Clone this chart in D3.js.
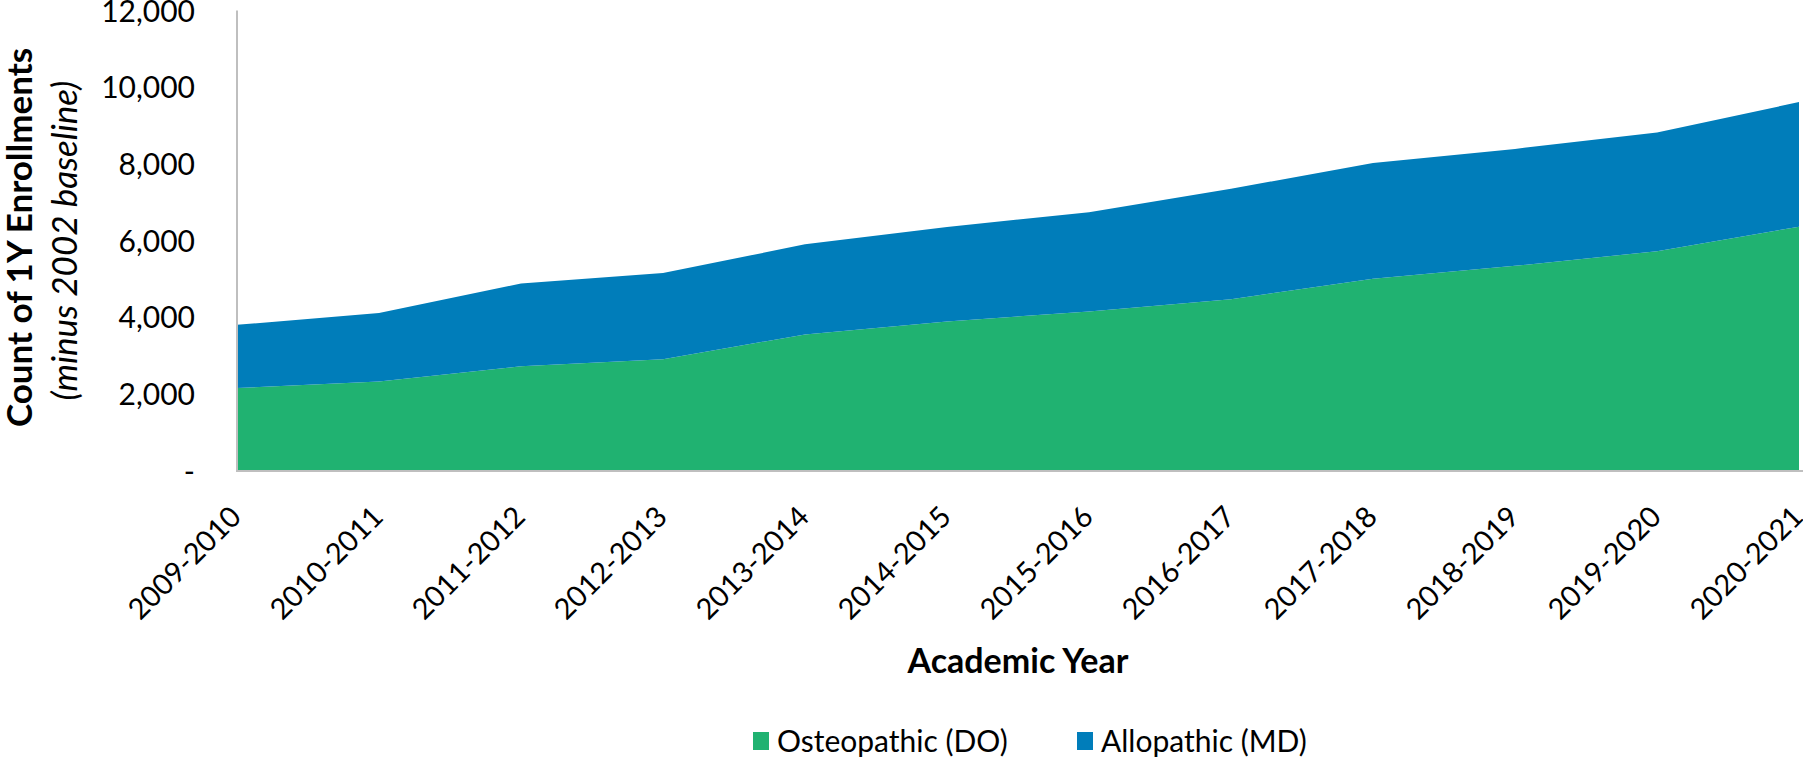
<!DOCTYPE html>
<html>
<head>
<meta charset="utf-8">
<script src="https://cdn.jsdelivr.net/npm/d3@7"></script>
<style>
  html, body { margin: 0; padding: 0; background: #fff; }
  svg { display: block; }
  text { font-family: Lato, "Open Sans", sans-serif; fill: #000; }
</style>
</head>
<body>
<svg id="chart" width="1803" height="759"></svg>
<script>
// Academic years on the category axis
const years = ["2009-2010", "2010-2011", "2011-2012", "2012-2013", "2013-2014", "2014-2015",
               "2015-2016", "2016-2017", "2017-2018", "2018-2019", "2019-2020", "2020-2021"];
// First-year enrollments above the 2002 baseline, by school type
const osteopathicDO = [2150, 2320, 2720, 2900, 3550, 3890, 4150, 4470, 5000, 5340, 5720, 6360];
const allopathicMD  = [1650, 1790, 2160, 2250, 2350, 2460, 2590, 2880, 3020, 3050, 3100, 3250];
const yTicks = [0, 2000, 4000, 6000, 8000, 10000, 12000];
const seriesNames = ["Osteopathic (DO)", "Allopathic (MD)"];
const seriesColors = ["#20B271", "#007DBA"];

const svg = d3.select("#chart");
const m = { left: 237, right: 1799, top: 10.5, bottom: 470.5 };

const x = d3.scalePoint().domain(years).range([m.left, m.right]);
const y = d3.scaleLinear().domain([0, 12000]).range([m.bottom, m.top]);

const rows = years.map((yr, i) => ({ year: yr, DO: osteopathicDO[i], MD: allopathicMD[i] }));
const stacked = d3.stack().keys(["DO", "MD"])(rows);

const area = d3.area()
  .x(d => x(d.data.year))
  .y0(d => y(d[0]))
  .y1(d => y(d[1]))
  .curve(d3.curveLinear);

svg.append("g").selectAll("path")
  .data(stacked)
  .join("path")
  .attr("d", area)
  .attr("fill", (d, i) => seriesColors[i]);

// Axis lines
svg.append("line")
  .attr("x1", m.left).attr("x2", m.left)
  .attr("y1", m.top).attr("y2", m.bottom + 1)
  .attr("stroke", "#bfbfbf").attr("stroke-width", 2);
svg.append("line")
  .attr("x1", m.left - 1).attr("x2", m.right + 4)
  .attr("y1", m.bottom + 0.5).attr("y2", m.bottom + 0.5)
  .attr("stroke", "#bfbfbf").attr("stroke-width", 2);

// Value axis labels
const yAxis = d3.axisLeft(y)
  .tickValues(yTicks)
  .tickSize(0)
  .tickPadding(42)
  .tickFormat(v => v === 0 ? "-  " : d3.format(",")(v));
const yg = svg.append("g").attr("transform", `translate(${m.left},0)`).call(yAxis);
yg.select(".domain").remove();
yg.selectAll("text")
  .attr("font-family", "Lato, sans-serif")
  .attr("font-size", 30)
  .attr("fill", "#000")
  .attr("dy", "0.35em");

// Category labels, rotated
svg.append("g").selectAll("text")
  .data(years)
  .join("text")
  .attr("transform", d => `translate(${x(d) + 6},${m.bottom + 48}) rotate(-45)`)
  .attr("text-anchor", "end")
  .attr("font-size", 29)
  .text(d => d);

// Axis titles
svg.append("text")
  .attr("transform", `translate(32,${(m.top + m.bottom) / 2 - 3}) rotate(-90)`)
  .attr("text-anchor", "middle")
  .attr("font-weight", 700)
  .attr("font-size", 35)
  .text("Count of 1Y Enrollments");
svg.append("text")
  .attr("transform", `translate(77,${(m.top + m.bottom) / 2}) rotate(-90)`)
  .attr("text-anchor", "middle")
  .attr("font-style", "italic")
  .attr("font-size", 35)
  .text("(minus 2002 baseline)");
svg.append("text")
  .attr("x", (m.left + m.right) / 2)
  .attr("y", 673)
  .attr("text-anchor", "middle")
  .attr("font-weight", 700)
  .attr("font-size", 34)
  .text("Academic Year");

// Legend
const legendX = [753, 1077];
const lg = svg.append("g").selectAll("g")
  .data(seriesNames)
  .join("g")
  .attr("transform", (d, i) => `translate(${legendX[i]},732)`);
lg.append("rect")
  .attr("width", 16).attr("height", 18)
  .attr("fill", (d, i) => seriesColors[i]);
lg.append("text")
  .attr("x", 24).attr("y", 20)
  .attr("font-size", 30)
  .text(d => d);
</script>
</body>
</html>
